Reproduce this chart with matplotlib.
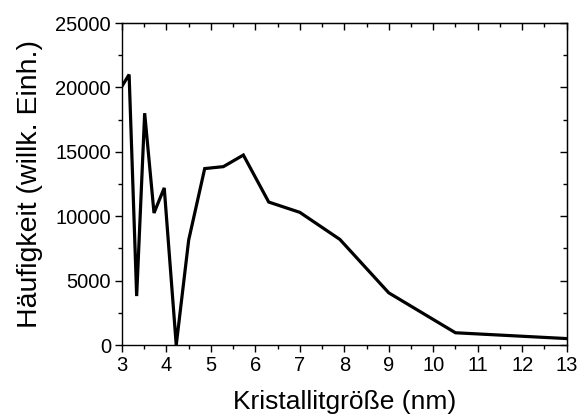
import numpy as np
import matplotlib
matplotlib.use('Agg')
import matplotlib.pyplot as plt
from matplotlib.ticker import MultipleLocator

# crystallite size (nm) and frequency (arb. units)
size_nm = [3.0, 3.16, 3.33, 3.51, 3.72, 3.95, 4.22, 4.5, 4.86, 5.28,
           5.73, 6.3, 7.0, 7.9, 9.0, 10.5, 13.0]
freq = [20100, 21000, 3800, 18000, 10250, 12200, 0, 8150, 13700, 13850,
        14750, 11100, 10300, 8200, 4050, 950, 500]

x_ticks = [3, 4, 5, 6, 7, 8, 9, 10, 11, 12, 13]
y_ticks = [0, 5000, 10000, 15000, 20000, 25000]

plt.rcParams['font.family'] = ['Liberation Sans', 'DejaVu Sans']

fig = plt.figure(figsize=(5.79, 4.19), dpi=100)
ax = fig.add_axes([0.2107, 0.1766, 0.9786 - 0.2107, 0.945 - 0.1766])

ax.plot(size_nm, freq, color='black', lw=2.3, solid_joinstyle='miter')

ax.set_xlim(3, 13)
ax.set_ylim(0, 25000)
ax.set_xticks(x_ticks)
ax.set_yticks(y_ticks)
ax.xaxis.set_minor_locator(MultipleLocator(0.5))
ax.yaxis.set_minor_locator(MultipleLocator(2500))

ax.tick_params(which='both', direction='out', top=False, right=False,
               labelsize=14.5, width=1)
ax.tick_params(which='major', length=5, pad=3)
ax.tick_params(which='minor', length=3)

# inward ticks on the top and right spines
sec_x = ax.secondary_xaxis('top')
sec_x.set_xticks(x_ticks)
sec_x.xaxis.set_minor_locator(MultipleLocator(0.5))
sec_x.tick_params(which='both', direction='in', labeltop=False, width=1)
sec_x.tick_params(which='major', length=5)
sec_x.tick_params(which='minor', length=3)
sec_y = ax.secondary_yaxis('right')
sec_y.set_yticks(y_ticks)
sec_y.yaxis.set_minor_locator(MultipleLocator(2500))
sec_y.tick_params(which='both', direction='in', labelright=False, width=1)
sec_y.tick_params(which='major', length=5)
sec_y.tick_params(which='minor', length=3)

for sp in ax.spines.values():
    sp.set_linewidth(1)

ax.set_xlabel('Kristallitgröße (nm)', fontsize=19, labelpad=11)
ax.set_ylabel('Häufigkeit (willk. Einh.)', fontsize=20.5, labelpad=9)

fig.savefig('out.png', dpi=100)
